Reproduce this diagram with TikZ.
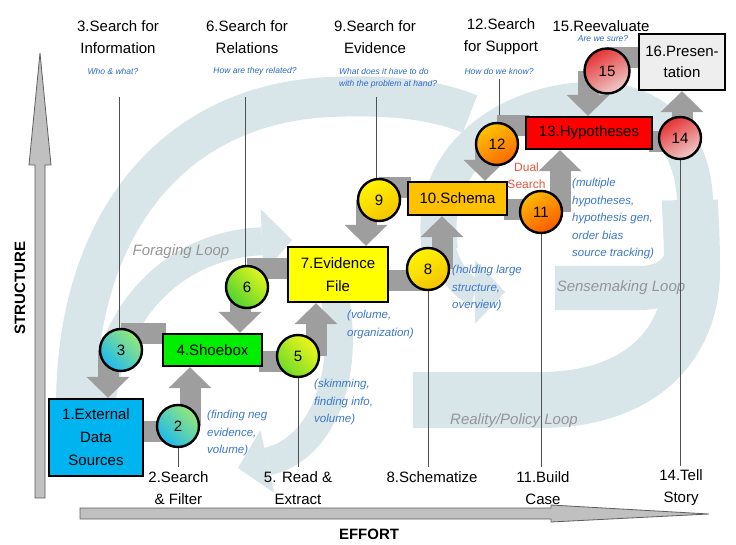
\documentclass[tikz,border=0pt]{standalone}
\usepackage{fontspec}
\setmainfont{Liberation Sans}
\usetikzlibrary{arrows.meta,calc}
\definecolor{loopc}{RGB}{216,229,233}
\definecolor{arrowgray}{RGB}{158,158,158}
\definecolor{axisgray}{RGB}{192,192,192}
\definecolor{axisline}{RGB}{95,95,95}
\definecolor{linegray}{RGB}{80,80,80}
\definecolor{noteblue}{RGB}{60,120,200}
\definecolor{subblue}{RGB}{45,105,200}
\definecolor{looptext}{RGB}{150,150,150}
\definecolor{dualred}{RGB}{235,85,65}
\definecolor{cA}{RGB}{0,180,240}
\definecolor{cB}{RGB}{0,238,0}
\definecolor{cC}{RGB}{255,255,0}
\definecolor{cD}{RGB}{255,192,0}
\definecolor{cE}{RGB}{255,0,0}
\definecolor{cF}{RGB}{238,238,238}
\begin{document}
\begin{tikzpicture}[x=1pt,y=-1pt,
  box/.style={draw=black,line width=2.4pt,align=center,inner sep=0pt,font=\fontsize{15}{23}\selectfont},
  circ/.style={circle,draw=black,line width=2.4pt,minimum size=42pt,inner sep=0pt,font=\fontsize{15}{18}\selectfont},
  lab/.style={align=center,inner sep=0pt,font=\fontsize{15}{22}\selectfont},
  sub/.style={align=center,inner sep=0pt,text=subblue,font=\fontsize{8.5}{12}\selectfont\itshape},
  note/.style={align=left,inner sep=0pt,anchor=north west,text=noteblue,font=\fontsize{11.5}{17.5}\selectfont\itshape},
  looplab/.style={inner sep=0pt,text=looptext,font=\fontsize{15}{18}\selectfont\itshape},
  band/.style={draw=loopc},
  bandtip/.style={-{Triangle[length=30pt,width=64pt,line width=0pt]}},
  gbar/.style={draw=arrowgray,line width=21pt},
  garrow/.style={draw=arrowgray,line width=21pt,-{Triangle[length=21pt,width=43pt,line width=0pt]}},
  vline/.style={draw=linegray,line width=0.8pt}
]
\useasboundingbox (0,0) rectangle (736,545);
\fill[white] (0,0) rectangle (736,545);

% ---------- background loops ----------
\draw[band,line width=40pt] (80,470) .. controls (55,260) and (150,105) .. (330,97) .. controls (400,94) and (440,102) .. (470,114);
\draw[band,bandtip,line width=28pt] (100,455) .. controls (92,320) and (170,245) .. (292,240);
\draw[band,bandtip,line width=28pt] (335,300) .. controls (350,380) and (320,450) .. (238,468);
\draw[band,line width=36pt] (440,250) .. controls (425,150) and (520,97) .. (600,100) .. controls (665,104) and (695,150) .. (695,205);
\draw[band,line width=44pt] (555,288) -- (640,288) .. controls (685,288) and (697,250) .. (695,205);
\draw[band,line width=56pt] (413,400) -- (540,400) .. controls (640,400) and (692,345) .. (692,270) .. controls (692,230) and (690,215) .. (690,200);
\draw[band,bandtip,line width=26pt] (440,235) .. controls (445,275) and (470,292) .. (505,292);

% ---------- axes ----------
\filldraw[fill=axisgray,draw=axisline,line width=0.8pt] (35,498) -- (35,165) -- (29,165) -- (40,53) -- (51,165) -- (45,165) -- (45,498) -- cycle;
\filldraw[fill=axisgray,draw=axisline,line width=0.8pt] (80,508) -- (551,508) -- (551,505) -- (709,514) -- (551,522) -- (551,519) -- (80,519) -- cycle;
\node[rotate=90,inner sep=0pt,font=\fontsize{15}{18}\selectfont\bfseries] (ylab) at (20,288) {STRUCTURE};
\node[inner sep=0pt,font=\fontsize{15}{18}\selectfont\bfseries] (xlab) at (369,534) {EFFORT};

% ---------- loop labels ----------
\node[looplab] (lf) at (181,252) {Foraging Loop};
\node[looplab] (ls) at (621,288) {Sensemaking Loop};
\node[looplab] (lr) at (514,421) {Reality/Policy Loop};

% ---------- box positions ----------
\path
  (96,437.5) node[box,minimum width=94pt,minimum height=77pt] (b1) {}
  (212.5,350) node[box,minimum width=99pt,minimum height=32pt] (b4) {}
  (338,274.5) node[box,minimum width=100pt,minimum height=55pt] (b7) {}
  (457.5,198.5) node[box,minimum width=99pt,minimum height=33pt] (b10) {}
  (589,133) node[box,minimum width=126pt,minimum height=32pt] (b13) {}
  (682,62) node[box,minimum width=86pt,minimum height=56pt] (b16) {};

% circle positions
\coordinate (p2) at (178,426);
\coordinate (p3) at (121,350);
\coordinate (p5) at (298,356);
\coordinate (p6) at (247,287);
\coordinate (p8) at (428,269);
\coordinate (p9) at (379,200);
\coordinate (p11) at (541,212);
\coordinate (p12) at (497,144);
\coordinate (p14) at (680,138);
\coordinate (p15) at (607,71);

% ---------- label texts ----------
\node[lab] (t3) at (118,37) {3.Search for\\Information};
\node[lab] (t6) at (247,37) {6.Search for\\Relations};
\node[lab] (t9) at (375,37) {9.Search for\\Evidence};
\node[lab] (t12) at (501,37) {12.Search\\for Support};
\node[lab] (t15) at (601,26) {15.Reevaluate};
\node[sub] (s3) at (113,71) {Who \& what?};
\node[sub] (s6) at (255,71) {How are they related?};
\node[sub,align=left,anchor=west] (s9) at (339,78) {What does it have to do\\with the problem at hand?};
\node[sub] (s12) at (499,71) {How do we know?};
\node[sub] (s15) at (603,39) {Are we sure?};

\node[lab] (l2) at (178.5,488) {2.Search\\\& Filter};
\node[lab] (l5) at (298,488) {5. Read \&\\Extract};
\node[lab] (l8) at (432,477) {8.Schematize};
\node[lab] (l11) at (543,488) {11.Build\\Case};
\node[lab] (l14) at (681,488) {14.Tell\\Story};

% ---------- thin lines ----------
\coordinate (e3) at (119,97);
\coordinate (e6) at (245,97);
\coordinate (e9) at (376,97);
\coordinate (e12) at (499,79);
\draw[vline] (e3) -- (e3 |- p3);
\draw[vline] (e6) -- (e6 |- p6);
\draw[vline] (e9) -- (e9 |- p9);
\draw[vline] (e12) -- (e12 |- p12);
\draw[vline] (p2) -- ($(p2 |- l2.north)+(0,-4)$);
\draw[vline] (p5) -- ($(p5 |- l5.north)+(0,-4)$);
\draw[vline] (p8) -- ($(p8 |- l8.north)+(0,-4)$);
\draw[vline] (p11) -- ($(p11 |- l11.north)+(0,-4)$);
\draw[vline] (p14) -- ($(p14 |- l14.north)+(0,-4)$);

% ---------- gray connectors (bottom-up) ----------
\draw[gbar] ($(b1.east |- p2)+(-4,5)$) -- ($(p2)+(0,5)$);
\draw[garrow] ($(p2)+(12,0)$) -- ($(p2 |- b4.south)+(12,0)$);
\draw[gbar] ($(b4.east)+(-4,11)$) -- ($(p5 |- b4.east)+(0,11)$);
\draw[garrow] ($(p5)+(18,0)$) -- ($(p5 |- b7.south)+(18,0)$);
\draw[gbar] ($(b7.east)+(-4,6)$) -- ($(p8 |- b7.east)+(0,6)$);
\draw[garrow] ($(p8)+(14,0)$) -- ($(p8 |- b10.south)+(14,0)$);
\draw[gbar] ($(b10.east)+(-4,11.5)$) -- ($(p11 |- b10.east)+(0,11.5)$);
\draw[garrow] ($(p11)+(19,0)$) -- ($(p11 |- b13.south)+(19,0)$);
\draw[gbar] ($(b13.east)+(-4,9)$) -- ($(p14 |- b13.east)+(0,9)$);
\draw[garrow] ($(p14)+(2,0)$) -- ($(p14 |- b16.south)+(2,0)$);
% ---------- gray connectors (top-down) ----------
\draw[gbar] ($(b16.west)+(4,-4)$) -- ($(p15 |- b16.west)+(0,-4)$);
\draw[garrow] ($(p15)+(-19,0)$) -- ($(p15 |- b13.north)+(-19,0)$);
\draw[gbar] ($(b13.west)+(4,-7)$) -- ($(p12 |- b13.west)+(0,-7)$);
\draw[garrow] ($(p12)+(-12,0)$) -- ($(p12 |- b10.north)+(-12,0)$);
\draw[gbar] ($(b10.west)+(4,-10.5)$) -- ($(p9 |- b10.west)+(0,-10.5)$);
\draw[garrow] ($(p9)+(-13,0)$) -- ($(p9 |- b7.north)+(-13,0)$);
\draw[gbar] ($(b7.west)+(4,-5.5)$) -- ($(p6 |- b7.west)+(0,-5.5)$);
\draw[garrow] ($(p6)+(-7,0)$) -- ($(p6 |- b4.north)+(-7,0)$);
\draw[gbar] ($(b4.west)+(4,-17)$) -- ($(p3 |- b4.west)+(0,-17)$);
\draw[garrow] ($(p3)+(-13,0)$) -- ($(p3 |- b1.north)+(-13,0)$);

% ---------- boxes on top ----------
\node[box,fill=cA,minimum width=94pt,minimum height=77pt] (box1) at (b1) {1.External\\Data\\Sources};
\node[box,fill=cB,minimum width=99pt,minimum height=32pt] (box4) at (b4) {4.Shoebox};
\node[box,fill=cC,minimum width=100pt,minimum height=55pt] (box7) at (b7) {7.Evidence\\File};
\node[box,fill=cD,minimum width=99pt,minimum height=33pt] (box10) at (b10) {10.Schema};
\node[box,fill=cE,minimum width=126pt,minimum height=32pt] (box13) at (b13) {13.Hypotheses};
\node[box,fill=cF,minimum width=86pt,minimum height=56pt,font=\fontsize{15}{21}\selectfont] (box16) at (b16) {16.Presen-\\tation};

% ---------- circles ----------
\node[circ,top color={rgb,255:red,150;green,232;blue,120},bottom color={rgb,255:red,30;green,185;blue,240},shading angle=-45] (c2) at (p2) {2};
\node[circ,top color={rgb,255:red,150;green,232;blue,120},bottom color={rgb,255:red,30;green,185;blue,240},shading angle=-45] (c3) at (p3) {3};
\node[circ,top color={rgb,255:red,240;green,245;blue,30},bottom color={rgb,255:red,110;green,220;blue,40},shading angle=-45] (c5) at (p5) {5};
\node[circ,top color={rgb,255:red,225;green,245;blue,30},bottom color={rgb,255:red,80;green,210;blue,50},shading angle=-45] (c6) at (p6) {6};
\node[circ,top color={rgb,255:red,255;green,245;blue,0},bottom color={rgb,255:red,245;green,195;blue,0},shading angle=30] (c8) at (p8) {8};
\node[circ,top color={rgb,255:red,255;green,245;blue,0},bottom color={rgb,255:red,245;green,195;blue,0},shading angle=30] (c9) at (p9) {9};
\node[circ,top color={rgb,255:red,255;green,185;blue,0},bottom color={rgb,255:red,250;green,90;blue,0},shading angle=30] (c11) at (p11) {11};
\node[circ,top color={rgb,255:red,255;green,195;blue,0},bottom color={rgb,255:red,250;green,105;blue,0},shading angle=30] (c12) at (p12) {12};
\node[circ,top color={rgb,255:red,230;green,50;blue,50},bottom color={rgb,255:red,238;green,205;blue,205},shading angle=30] (c14) at (p14) {14};
\node[circ,minimum size=45pt,top color={rgb,255:red,230;green,50;blue,50},bottom color={rgb,255:red,238;green,205;blue,205},shading angle=30] (c15) at (p15) {15};

% ---------- notes ----------
\node[note] (n2) at (207,410) {(finding neg\\evidence,\\volume)};
\node[note] (n5) at (314,379) {(skimming,\\finding info,\\volume)};
\node[note] (n7) at (347,310) {(volume,\\organization)};
\node[note] (n8) at (452,265) {(holding large\\structure,\\overview)};
\node[note] (n11) at (572,178) {(multiple\\hypotheses,\\hypothesis gen,\\order bias\\source tracking)};
\node[align=center,inner sep=0pt,text=dualred,font=\fontsize{12}{17}\selectfont] (dual) at (526.5,176) {Dual\\Search};
\end{tikzpicture}
\end{document}
